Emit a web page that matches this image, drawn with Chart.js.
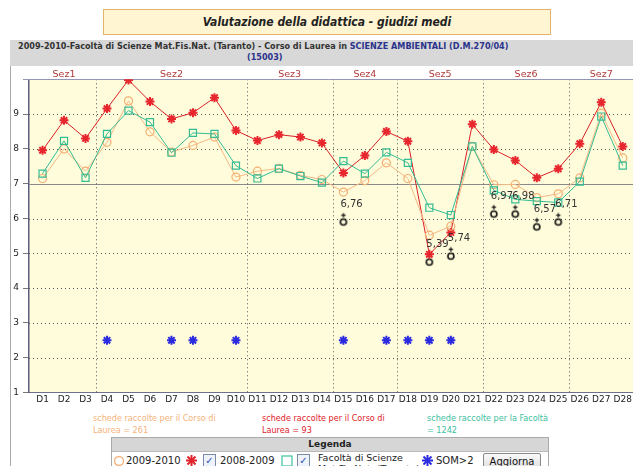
<!DOCTYPE html>
<html><head><meta charset="utf-8">
<script src="https://cdn.jsdelivr.net/npm/chart.js@4.4.1/dist/chart.umd.min.js"></script>
<style>
html,body{margin:0;padding:0;background:#fff;width:633px;height:466px;overflow:hidden;position:relative;font-family:"DejaVu Sans",sans-serif;}
#title{position:absolute;left:103px;top:9px;width:446px;height:24px;background:#FFF5D2;border:1px solid #E2B56A;text-align:center;font:italic bold 12px "DejaVu Sans Condensed","DejaVu Sans",sans-serif;line-height:24px;color:#222;}
#panel{position:absolute;left:10px;top:40px;width:640px;height:440px;border-left:1px solid #aaa;border-top:1px solid #bbb;}
#hdr{position:absolute;left:10px;top:40px;width:640px;height:26px;background:#D8D8D8;}
#hdr .l1{position:absolute;left:8px;top:1px;font:bold 9px "DejaVu Sans Condensed",sans-serif;color:#333;white-space:nowrap;}
#hdr .l2{position:absolute;left:237px;top:12px;font:bold 9px "DejaVu Sans Condensed",sans-serif;color:#2B338C;white-space:nowrap;}
.blue{color:#2B338C;}
#cv{position:absolute;left:0;top:66px;}
.cnt{position:absolute;top:412px;font:9px "DejaVu Sans Condensed",sans-serif;line-height:12px;width:150px;}
#legend{position:absolute;left:111px;top:437px;width:436px;height:40px;border:1px solid #aaa;background:#fff;}
#legend .h{background:#D6D6D6;height:13px;text-align:center;font:bold 9px "DejaVu Sans",sans-serif;line-height:13px;color:#222;border-bottom:1px solid #bbb;}
.it{position:absolute;top:17px;font:10px "DejaVu Sans",sans-serif;color:#222;white-space:nowrap;}
.cb{position:absolute;top:16px;width:11px;height:11px;border:1px solid #7a8aa8;background:#eef2fa;font:bold 10px "DejaVu Sans";color:#2850b0;line-height:11px;text-align:center;}
#btn{position:absolute;left:371px;top:15px;width:56px;height:16px;border:1px solid #888;border-radius:2px;background:linear-gradient(#fafafa,#dcdcdc);font:10px "DejaVu Sans",sans-serif;text-align:center;line-height:16px;color:#111;}
</style></head>
<body>
<div id="title">Valutazione della didattica - giudizi medi</div>
<div id="panel"></div>
<div id="hdr"><div class="l1">2009-2010-Facoltà di Scienze Mat.Fis.Nat. (Taranto) - Corso di Laurea in <span class="blue">SCIENZE AMBIENTALI (D.M.270/04)</span></div><div class="l2">(15003)</div></div>
<canvas id="cv" width="640" height="344"></canvas>
<div class="cnt" style="left:93px;color:#F6B27A;">schede raccolte per il Corso di<br>Laurea = 261</div>
<div class="cnt" style="left:262px;color:#E0202A;">schede raccolte per il Corso di<br>Laurea = 93</div>
<div class="cnt" style="left:427px;color:#3CC0A0;">schede raccolte per la Facoltà<br>= 1242</div>
<div id="legend"><div class="h">Legenda</div>
<svg style="position:absolute;left:1px;top:17px" width="12" height="12"><circle cx="6" cy="6" r="4.5" fill="none" stroke="#F6B27A" stroke-width="1.3"/></svg>
<div class="it" style="left:14px">2009-2010</div>
<svg style="position:absolute;left:73px;top:16px" width="13" height="13"><g stroke="#E0202A" stroke-width="2"><line x1="6.5" y1="1" x2="6.5" y2="12"/><line x1="1" y1="6.5" x2="12" y2="6.5"/><line x1="2.5" y1="2.5" x2="10.5" y2="10.5"/><line x1="10.5" y1="2.5" x2="2.5" y2="10.5"/></g></svg>
<div class="cb" style="left:91px">✓</div>
<div class="it" style="left:108px">2008-2009</div>
<svg style="position:absolute;left:169px;top:17px" width="12" height="12"><rect x="1" y="1" width="10" height="10" fill="none" stroke="#3CC0A0" stroke-width="1.2"/></svg>
<div class="cb" style="left:185px">✓</div>
<div class="it" style="left:206px;top:14px;font-size:9.5px;line-height:11px">Facoltà di Scienze<br>Mat.Fis.Nat. (Taranto)</div>
<svg style="position:absolute;left:309px;top:16px" width="13" height="13"><g stroke="#2A2AE0" stroke-width="2"><line x1="6.5" y1="1" x2="6.5" y2="12"/><line x1="1" y1="6.5" x2="12" y2="6.5"/><line x1="2.5" y1="2.5" x2="10.5" y2="10.5"/><line x1="10.5" y1="2.5" x2="2.5" y2="10.5"/></g></svg>
<div class="it" style="left:324px">SOM&gt;2</div>
<div id="btn">Aggiorna</div>
</div>
<script>
// ---- data ----
const categories = ['D1','D2','D3','D4','D5','D6','D7','D8','D9','D10','D11','D12','D13','D14','D15','D16','D17','D18','D19','D20','D21','D22','D23','D24','D25','D26','D27','D28'];
const yTicks = [1,2,3,4,5,6,7,8,9,10];
const serie2009_2010 = [7.15,8.00,7.36,8.19,9.38,8.49,7.91,8.10,8.34,7.19,7.36,7.44,7.24,7.12,6.76,7.09,7.60,7.15,5.52,5.78,8.07,6.97,6.98,6.60,6.71,7.17,9.03,7.74];
const serie2008_2009 = [7.96,8.82,8.30,9.16,9.98,9.36,8.86,9.04,9.47,8.53,8.24,8.41,8.34,8.17,7.31,7.81,8.50,8.22,4.97,5.60,8.71,7.98,7.67,7.17,7.43,8.15,9.34,8.07];
const serieFacolta  = [7.29,8.23,7.17,8.43,9.10,8.77,7.89,8.46,8.43,7.52,7.15,7.43,7.22,7.03,7.65,7.29,7.90,7.60,6.31,6.10,8.07,6.81,6.55,6.50,6.46,7.06,8.93,7.52];
const somIndex = [4,7,8,10,15,17,18,19,20];
const somValue = [2.5,2.5,2.5,2.5,2.5,2.5,2.5,2.5,2.5];
const warnIndex = [15,19,20,22,23,24,25];
const warnValue = [5.97,4.82,4.99,6.20,6.20,5.83,5.97];
const warnLabels = ['6,76','5,39','5,74','6,97','6,98','6,57','6,71'];
const sectionNames = ['Sez1','Sez2','Sez3','Sez4','Sez5','Sez6','Sez7'];
const sectionStart = [1,4,11,15,18,22,26];
const sectionEnd   = [3,10,14,17,21,25,28];

const toXY = arr => arr.map((v,i)=>({x:i+1,y:v}));

// warning marker image
const wm = document.createElement('canvas'); wm.width=12; wm.height=26;
(function(){const c=wm.getContext('2d');c.strokeStyle='#111';c.lineWidth=1.6;
 c.beginPath();c.arc(6,15.5,3,0,Math.PI*2);c.stroke();
 c.lineWidth=1.2;c.beginPath();c.moveTo(6,6.5);c.lineTo(6,11);c.moveTo(3.8,8.7);c.lineTo(8.2,8.7);c.stroke();})();

const bgPlugin = {
  id:'bg',
  beforeDraw(chart){
    const {ctx, chartArea:a} = chart;
    ctx.save();
    ctx.fillStyle='#FFFCDB';
    ctx.fillRect(a.left,a.top,a.right-a.left,a.bottom-a.top);
    ctx.restore();
  },
  beforeDatasetsDraw(chart){
    const {ctx, chartArea:a, scales:{x,y}} = chart;
    ctx.save();
    ctx.lineWidth=1;
    yTicks.forEach(v=>{
      if(v===1||v===10) return;
      const py=Math.round(y.getPixelForValue(v))+0.5;
      ctx.beginPath();
      if(v===7){ctx.setLineDash([]);ctx.strokeStyle='#8a8a8a';}
      else {ctx.setLineDash([1,3]);ctx.strokeStyle='#555';}
      ctx.moveTo(a.left,py);ctx.lineTo(a.right,py);ctx.stroke();
    });
    ctx.setLineDash([1,3]);ctx.strokeStyle='#555';
    for(let i=1;i<sectionStart.length;i++){
      const px=Math.round(x.getPixelForValue((sectionEnd[i-1]+sectionStart[i])/2))+0.5;
      ctx.beginPath();ctx.moveTo(px,a.top);ctx.lineTo(px,a.bottom);ctx.stroke();
    }
    ctx.setLineDash([]);
    const pt=Math.round(y.getPixelForValue(10))+0.5;
    ctx.strokeStyle='#9496B8';ctx.beginPath();ctx.moveTo(a.left-6,pt);ctx.lineTo(a.right,pt);ctx.stroke();
    ctx.fillStyle='#B03A3A';ctx.font='9.5px "DejaVu Sans"';ctx.textAlign='center';ctx.textBaseline='middle';
    sectionNames.forEach((n,i)=>{
      const px=x.getPixelForValue((sectionStart[i]+sectionEnd[i])/2);
      ctx.fillText(n,px,a.top-5);
    });
    ctx.restore();
  },
  afterDatasetsDraw(chart){
    const {ctx, scales:{x,y}} = chart;
    ctx.save();
    ctx.fillStyle='#333';ctx.font='10px "DejaVu Sans"';ctx.textAlign='left';ctx.textBaseline='middle';
    warnIndex.forEach((d,i)=>{
      ctx.fillText(warnLabels[i], x.getPixelForValue(d)-3, y.getPixelForValue(warnValue[i])-15);
    });
    ctx.restore();
  }
};

new Chart(document.getElementById('cv'),{
  type:'line',
  data:{datasets:[
    {label:'Facoltà',data:toXY(serieFacolta),borderColor:'#34BC94',borderWidth:1,pointStyle:'rect',pointRadius:5,pointBorderColor:'#34BC94',pointBackgroundColor:'rgba(0,0,0,0)',pointBorderWidth:1.2,tension:0},
    {label:'2009-2010',data:toXY(serie2009_2010),borderColor:'#F6B985',borderWidth:1,pointStyle:'circle',pointRadius:4,pointBorderColor:'#F4AE72',pointBackgroundColor:'rgba(0,0,0,0)',pointBorderWidth:1.2,tension:0},
    {label:'2008-2009',data:toXY(serie2008_2009),borderColor:'#D82028',borderWidth:1,pointStyle:'star',pointRadius:4.5,pointBorderColor:'#E8262E',pointBackgroundColor:'#F27A7A',pointBorderWidth:2,tension:0},
    {label:'SOM>2',data:somIndex.map((d,i)=>({x:d,y:somValue[i]})),showLine:false,pointStyle:'star',pointRadius:4.5,pointBorderColor:'#2A2AE0',pointBorderWidth:2},
    {label:'warn',data:warnIndex.map((d,i)=>({x:d,y:warnValue[i]})),showLine:false,pointStyle:wm}
  ]},
  options:{
    responsive:false,animation:false,
    layout:{padding:{left:0,top:13.3,right:4,bottom:0}},
    plugins:{legend:{display:false},tooltip:{enabled:false}},
    scales:{
      x:{type:'linear',min:0.37,max:28.5,
        grid:{display:false,drawTicks:false,tickLength:0},
        border:{display:true,color:'#6E7090',width:1},
        ticks:{stepSize:1,includeBounds:false,autoSkip:false,maxRotation:0,padding:2,color:'#222',font:{family:'DejaVu Sans',size:9},
          callback:v=>(Number.isInteger(v)&&v>=1&&v<=categories.length)?categories[v-1]:''},
        afterFit:s=>{s.height=17.5;}
      },
      y:{type:'linear',min:1,max:10,
        grid:{drawOnChartArea:false,drawTicks:true,tickLength:6,color:'#777'},
        border:{display:true,color:'#5A5C80',width:1.5},
        ticks:{stepSize:1,padding:4,color:'#222',font:{family:'DejaVu Sans',size:9},callback:v=>v===10?'':String(v)},
        afterFit:s=>{s.width=29;}
      }
    }
  },
  plugins:[bgPlugin]
});
</script>
</body></html>
